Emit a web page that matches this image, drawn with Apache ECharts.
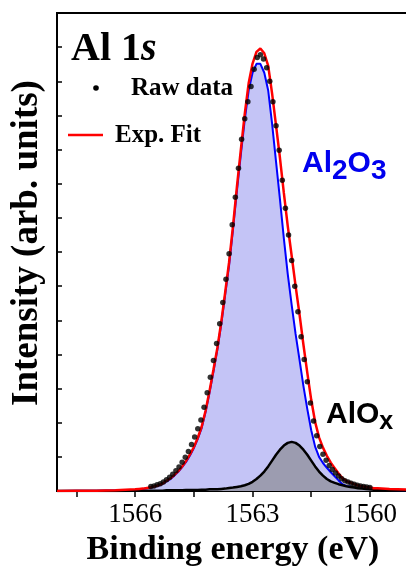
<!DOCTYPE html>
<html>
<head>
<meta charset="utf-8">
<script src="https://cdn.jsdelivr.net/npm/echarts@6.0.0/dist/echarts.min.js"></script>
<style>
html,body{margin:0;padding:0;background:#fff;}
#chart{width:406px;height:569px;}
</style>
</head>
<body>
<div id="chart"></div>
<script>
// Binding energy grid of the fitted curves (eV)
var fitEnergy = [1568.0, 1567.5, 1567.0, 1566.5, 1566.0, 1565.9, 1565.8, 1565.7, 1565.6, 1565.5,
  1565.4, 1565.3, 1565.2, 1565.1, 1565.0, 1564.9, 1564.8, 1564.7, 1564.6, 1564.5,
  1564.4, 1564.3, 1564.2, 1564.1, 1564.0, 1563.9, 1563.8, 1563.7, 1563.6, 1563.5,
  1563.4, 1563.3, 1563.2, 1563.1, 1563.0, 1562.9, 1562.8, 1562.7, 1562.6, 1562.5,
  1562.4, 1562.3, 1562.2, 1562.1, 1562.0, 1561.9, 1561.8, 1561.7, 1561.6, 1561.5,
  1561.4, 1561.3, 1561.2, 1561.1, 1561.0, 1560.9, 1560.8, 1560.7, 1560.6, 1560.5,
  1560.4, 1560.3, 1560.2, 1560.1, 1560.0, 1559.9, 1559.8, 1559.5, 1559.0];

// Al2O3 component (blue)
var al2o3 = [0.00, 0.01, 0.01, 0.02, 0.04, 0.05, 0.06, 0.08, 0.10, 0.13,
  0.16, 0.21, 0.28, 0.35, 0.45, 0.56, 0.70, 0.85, 1.04, 1.26,
  1.53, 1.85, 2.32, 2.88, 3.50, 4.14, 4.89, 5.75, 6.61, 7.66,
  8.79, 9.85, 10.87, 11.73, 12.25, 12.51, 12.51, 12.25, 11.73, 10.75,
  9.65, 8.55, 7.40, 6.35, 5.45, 4.60, 3.85, 3.08, 2.40, 1.78,
  1.30, 1.00, 0.82, 0.68, 0.55, 0.43, 0.31, 0.20, 0.15, 0.13,
  0.10, 0.08, 0.07, 0.06, 0.05, 0.04, 0.04, 0.03, 0.02];

// AlOx component (black)
var alox = [0.00, 0.00, 0.00, 0.00, 0.01, 0.01, 0.01, 0.01, 0.01, 0.01,
  0.01, 0.01, 0.02, 0.02, 0.02, 0.02, 0.02, 0.03, 0.03, 0.03,
  0.03, 0.04, 0.04, 0.05, 0.05, 0.05, 0.06, 0.07, 0.09, 0.10,
  0.12, 0.14, 0.17, 0.21, 0.27, 0.35, 0.45, 0.57, 0.72, 0.89,
  1.06, 1.21, 1.33, 1.41, 1.44, 1.41, 1.33, 1.21, 1.06, 0.89,
  0.72, 0.57, 0.45, 0.35, 0.28, 0.24, 0.20, 0.17, 0.14, 0.12,
  0.10, 0.08, 0.07, 0.06, 0.05, 0.04, 0.04, 0.03, 0.02];

// Exp. Fit envelope (red)
var expFit = [0.00, 0.01, 0.01, 0.02, 0.05, 0.06, 0.07, 0.09, 0.11, 0.14,
  0.17, 0.22, 0.30, 0.37, 0.47, 0.58, 0.72, 0.88, 1.07, 1.29,
  1.56, 1.89, 2.36, 2.93, 3.55, 4.19, 4.95, 5.82, 6.70, 7.76,
  8.91, 9.99, 11.04, 11.94, 12.52, 12.86, 12.96, 12.82, 12.45, 11.64,
  10.71, 9.76, 8.73, 7.76, 6.89, 6.01, 5.18, 4.29, 3.46, 2.67,
  2.02, 1.57, 1.27, 1.03, 0.83, 0.67, 0.51, 0.37, 0.29, 0.25,
  0.20, 0.16, 0.14, 0.12, 0.10, 0.08, 0.08, 0.06, 0.04];

// Raw data points
var rawEnergy = [1565.60, 1565.52, 1565.44, 1565.36, 1565.28, 1565.20, 1565.12, 1565.04, 1564.96, 1564.88,
  1564.80, 1564.72, 1564.64, 1564.56, 1564.48, 1564.40, 1564.32, 1564.24, 1564.16, 1564.08,
  1564.00, 1563.92, 1563.84, 1563.76, 1563.68, 1563.60, 1563.52, 1563.44, 1563.36, 1563.28,
  1563.20, 1563.12, 1563.04, 1562.96, 1562.88, 1562.80, 1562.72, 1562.64, 1562.56, 1562.48,
  1562.40, 1562.32, 1562.24, 1562.16, 1562.08, 1562.00, 1561.92, 1561.84, 1561.76, 1561.68,
  1561.60, 1561.52, 1561.44, 1561.36, 1561.28, 1561.20, 1561.12, 1561.04, 1560.96, 1560.88,
  1560.80, 1560.72, 1560.64, 1560.56, 1560.48, 1560.40, 1560.32, 1560.24, 1560.16, 1560.08, 1560.00];
var rawIntensity = [0.13, 0.15, 0.18, 0.21, 0.26, 0.33, 0.40, 0.49, 0.59, 0.70,
  0.84, 0.99, 1.16, 1.36, 1.58, 1.82, 2.08, 2.45, 2.88, 3.33,
  3.82, 4.32, 4.90, 5.52, 6.20, 6.95, 7.80, 8.60, 9.45, 10.30,
  10.90, 11.40, 11.85, 12.35, 12.70, 12.78, 12.65, 12.40, 12.00, 11.40,
  10.70, 9.98, 9.10, 8.28, 7.50, 6.75, 6.00, 5.25, 4.52, 3.85,
  3.20, 2.58, 2.05, 1.62, 1.30, 1.08, 0.90, 0.75, 0.63, 0.53,
  0.44, 0.36, 0.30, 0.26, 0.23, 0.20, 0.17, 0.15, 0.13, 0.12, 0.10];

var xTickValues = [1560, 1561.5, 1563, 1564.5, 1566, 1567.5];
var xLabelValues = [1560, 1563, 1566];

function pairs(xs, ys) { return xs.map(function (x, i) { return [x, ys[i]]; }); }

var serif = '"Liberation Serif", "Times New Roman", serif';
var sans = '"Liberation Sans", Arial, sans-serif';

var chart = echarts.init(document.getElementById('chart'), null, {renderer: 'canvas'});
chart.setOption({
  animation: false,
  backgroundColor: '#ffffff',
  grid: {left: 57, right: -3, top: 13, bottom: 78, show: true, borderColor: '#000', borderWidth: 2, outerBoundsMode: 'none'},
  xAxis: {
    type: 'value', min: 1559, max: 1568, inverse: true,
    axisLine: {show: true, onZero: false, lineStyle: {color: '#000', width: 2}},
    axisTick: {show: true, inside: false, length: 6, customValues: xTickValues, lineStyle: {color: '#000', width: 1.5}},
    axisLabel: {show: true, customValues: xLabelValues, margin: 10, color: '#000', fontFamily: serif, fontSize: 27,
      formatter: function (v) { return String(v); }},
    splitLine: {show: false},
    name: 'Binding energy (eV)', nameLocation: 'middle', nameGap: 40,
    nameTextStyle: {color: '#000', fontFamily: serif, fontWeight: 'bold', fontSize: 34}
  },
  yAxis: {
    type: 'value', min: 0, max: 14, interval: 1,
    axisLine: {show: true, lineStyle: {color: '#000', width: 2}},
    axisTick: {show: true, inside: true, length: 5, lineStyle: {color: '#000', width: 1.5}},
    axisLabel: {show: false},
    splitLine: {show: false}
  },
  series: [
    {name: 'Al2O3', type: 'line', data: pairs(fitEnergy, al2o3), showSymbol: false, z: 2,
     lineStyle: {color: '#0000ff', width: 2}, itemStyle: {color: '#0000ff'},
     areaStyle: {color: '#c4c4f6', opacity: 1, origin: 'start'}},
    {name: 'AlOx', type: 'line', data: pairs(fitEnergy, alox), showSymbol: false, z: 3,
     lineStyle: {color: '#000000', width: 2.5}, itemStyle: {color: '#000'},
     areaStyle: {color: '#9c9cb0', opacity: 1, origin: 'start'}},
    {name: 'Exp. Fit', type: 'line', data: pairs(fitEnergy, expFit), showSymbol: false, z: 4,
     lineStyle: {color: '#ff0000', width: 2.5}, itemStyle: {color: '#ff0000'}},
    {name: 'Raw data', type: 'scatter', data: pairs(rawEnergy, rawIntensity), z: 5,
     symbol: 'circle', symbolSize: 5.5, itemStyle: {color: '#000'}}
  ],
  graphic: [
    {type: 'text', left: 71, top: 30, z: 10, style: {
      text: '{n|Al 1}{i|s}', fill: '#000',
      rich: {n: {fontFamily: serif, fontWeight: 'bold', fontSize: 40, fill: '#000'},
             i: {fontFamily: serif, fontWeight: 'bold', fontStyle: 'italic', fontSize: 40, fill: '#000'}}}},
    {type: 'circle', z: 10, shape: {cx: 96, cy: 88, r: 2.8}, style: {fill: '#000'}},
    {type: 'text', z: 10, style: {text: 'Raw data', x: 131, y: 89, textVerticalAlign: 'middle', fill: '#000',
      font: 'bold 25px ' + serif}},
    {type: 'line', z: 10, shape: {x1: 68, y1: 135, x2: 103, y2: 135}, style: {stroke: '#ff0000', lineWidth: 2.5}},
    {type: 'text', z: 10, style: {text: 'Exp. Fit', x: 115, y: 136, textVerticalAlign: 'middle', fill: '#000',
      font: 'bold 25px ' + serif}},
    {type: 'text', left: 302, top: 149, z: 10, style: {
      text: '{a|Al}{s|2}{a|O}{s|3}', fill: '#0000ee',
      rich: {a: {fontFamily: sans, fontWeight: 'bold', fontSize: 30, fill: '#0000ee', lineHeight: 30, verticalAlign: 'top'},
             s: {fontFamily: sans, fontWeight: 'bold', fontSize: 28, fill: '#0000ee', lineHeight: 30, padding: [8, 0, 0, 0], verticalAlign: 'top'}}}},
    {type: 'text', left: 326, top: 400, z: 10, style: {
      text: '{a|AlO}{s|x}', fill: '#000',
      rich: {a: {fontFamily: sans, fontWeight: 'bold', fontSize: 30, fill: '#000', lineHeight: 32, verticalAlign: 'top'},
             s: {fontFamily: sans, fontWeight: 'bold', fontSize: 25, fill: '#000', lineHeight: 32, padding: [10, 0, 0, 0], verticalAlign: 'top'}}}},
    {type: 'text', z: 10, x: 27, y: 243, rotation: Math.PI / 2, style: {
      text: 'Intensity (arb. units)', x: 0, y: 0, textAlign: 'center', textVerticalAlign: 'middle', fill: '#000',
      font: 'bold 37px ' + serif}}
  ]
});
</script>
</body>
</html>
